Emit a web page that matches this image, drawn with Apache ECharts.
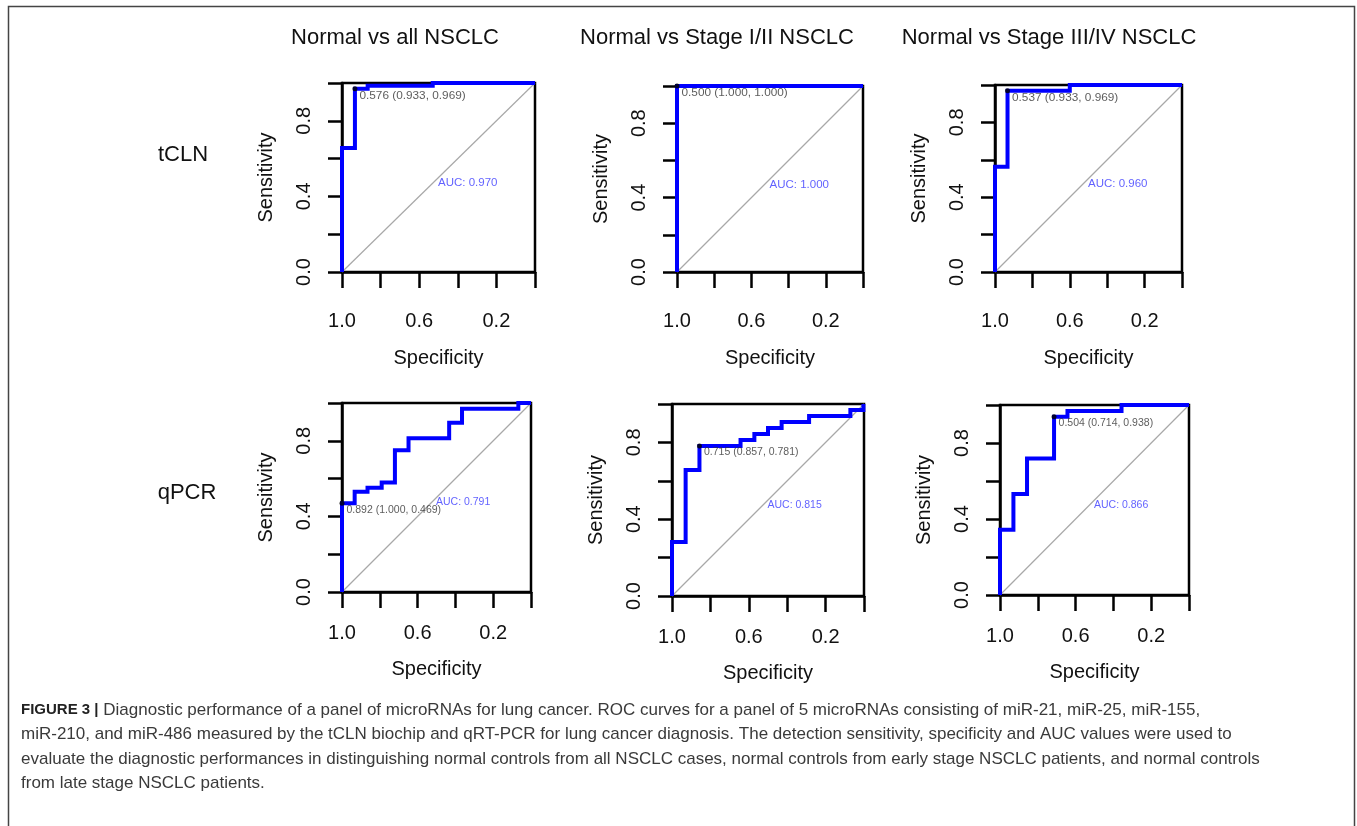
<!DOCTYPE html>
<html>
<head>
<meta charset="utf-8">
<script src="https://cdn.jsdelivr.net/npm/echarts@6/dist/echarts.min.js"></script>
<style>
  html, body { margin: 0; padding: 0; background: #fff; }
  #chart { width: 1357px; height: 826px; }
</style>
</head>
<body>
<div id="chart"></div>
<script>
const FONT = "'Liberation Sans', Arial, sans-serif";

// column / row headings
const colTitles = ["Normal vs all NSCLC", "Normal vs Stage I/II NSCLC", "Normal vs Stage III/IV NSCLC"];
const rowTitles = ["tCLN", "qPCR"];

// ROC curves, points as [specificity, sensitivity]
const rocTclnAll = [[1, 0], [1, 0.656], [0.933, 0.656], [0.933, 0.969], [0.867, 0.969], [0.867, 0.985], [0.53, 0.985], [0.53, 1], [0, 1]];
const rocTclnEarly = [[1, 0], [1, 1], [0, 1]];
const rocTclnLate = [[1, 0], [1, 0.563], [0.933, 0.563], [0.933, 0.969], [0.6, 0.969], [0.6, 1], [0, 1]];
const rocQpcrAll = [[1, 0], [1, 0.469], [0.933, 0.469], [0.933, 0.531], [0.865, 0.531], [0.865, 0.552], [0.79, 0.552], [0.79, 0.58], [0.72, 0.58],
  [0.72, 0.75], [0.648, 0.75], [0.648, 0.813], [0.433, 0.813], [0.433, 0.895], [0.365, 0.895], [0.365, 0.969], [0.067, 0.969], [0.067, 1], [0, 1]];
const rocQpcrEarly = [[1, 0], [1, 0.281], [0.929, 0.281], [0.929, 0.656], [0.857, 0.656], [0.857, 0.781], [0.643, 0.781], [0.643, 0.813],
  [0.571, 0.813], [0.571, 0.844], [0.5, 0.844], [0.5, 0.875], [0.429, 0.875], [0.429, 0.906], [0.286, 0.906], [0.286, 0.938],
  [0.071, 0.938], [0.071, 0.969], [0.003, 0.969], [0.003, 1], [0, 1]];
const rocQpcrLate = [[1, 0], [1, 0.344], [0.929, 0.344], [0.929, 0.531], [0.857, 0.531], [0.857, 0.719], [0.714, 0.719], [0.714, 0.938],
  [0.643, 0.938], [0.643, 0.969], [0.357, 0.969], [0.357, 1], [0, 1]];

const rocCurves = [rocTclnAll, rocTclnEarly, rocTclnLate, rocQpcrAll, rocQpcrEarly, rocQpcrLate];

// best threshold per panel: threshold, specificity, sensitivity
const bestThreshold = ["0.576", "0.500", "0.537", "0.892", "0.715", "0.504"];
const bestSpec = [0.933, 1.0, 0.933, 1.0, 0.857, 0.714];
const bestSens = [0.969, 1.0, 0.969, 0.469, 0.781, 0.938];
const aucValues = ["0.970", "1.000", "0.960", "0.791", "0.815", "0.866"];

// axis ticks
const tickStep = 0.2;
const xTickLabels = ["1.0", "0.6", "0.2"];
const yTickLabels = ["0.0", "0.4", "0.8"];
const diagonal = [[1, 0], [0, 1]];

// plot boxes in pixels
const boxes = [
  { left: 342, top: 83, width: 193, height: 189 },
  { left: 677, top: 86, width: 186, height: 186 },
  { left: 995, top: 85, width: 187, height: 187 },
  { left: 342, top: 403, width: 189, height: 189 },
  { left: 672, top: 404, width: 192, height: 192 },
  { left: 1000, top: 405, width: 189, height: 190 }
];

const captionLines = [
  "{b|FIGURE 3 |} Diagnostic performance of a panel of microRNAs for lung cancer. ROC curves for a panel of 5 microRNAs consisting of miR-21, miR-25, miR-155,",
  "miR-210, and miR-486 measured by the tCLN biochip and qRT-PCR for lung cancer diagnosis. The detection sensitivity, specificity and AUC values were used to",
  "evaluate the diagnostic performances in distinguishing normal controls from all NSCLC cases, normal controls from early stage NSCLC patients, and normal controls",
  "from late stage NSCLC patients."
];

const fmt = (v) => (Math.round(v * 10) / 10).toFixed(1);

const chart = echarts.init(document.getElementById("chart"), null, { renderer: "canvas" });

const grid = boxes.map((b) => ({
  left: b.left, top: b.top, width: b.width, height: b.height,
  show: true, borderColor: "#000", borderWidth: 2.5, backgroundColor: "transparent",
  containLabel: false, outerBoundsMode: "none"
}));

const xAxis = boxes.map((b, i) => {
  const topRow = i < 3;
  return {
    gridIndex: i, type: "value", min: 0, max: 1, interval: tickStep, inverse: true, position: "bottom",
    name: "Specificity", nameLocation: "middle", nameGap: topRow ? 76 : 67,
    nameTextStyle: { fontFamily: FONT, fontSize: 20, color: "#111" },
    axisLine: { show: true, onZero: false, lineStyle: { color: "#000", width: 2.5 } },
    axisTick: { show: true, inside: false, length: 16, lineStyle: { color: "#000", width: 2.5 } },
    axisLabel: {
      margin: topRow ? 39 : 31, fontFamily: FONT, fontSize: 20, color: "#111",
      formatter: (v) => (xTickLabels.includes(fmt(v)) ? fmt(v) : "")
    },
    splitLine: { show: false }
  };
});

const yAxis = boxes.map((b, i) => ({
  gridIndex: i, type: "value", min: 0, max: 1, interval: tickStep, position: "left",
  name: "Sensitivity", nameLocation: "middle", nameGap: 66,
  nameTextStyle: { fontFamily: FONT, fontSize: 20, color: "#111" },
  axisLine: { show: true, onZero: false, lineStyle: { color: "#000", width: 2.5 } },
  axisTick: { show: true, inside: false, length: 14, lineStyle: { color: "#000", width: 2.5 } },
  axisLabel: {
    margin: 28, rotate: 90, fontFamily: FONT, fontSize: 20, color: "#111",
    formatter: (v) => (yTickLabels.includes(fmt(v)) ? fmt(v) : "")
  },
  splitLine: { show: false }
}));

const series = [];
rocCurves.forEach((curve, i) => {
  const small = i < 3 ? 11.8 : 10.5;
  series.push({
    type: "line", xAxisIndex: i, yAxisIndex: i, data: diagonal, symbol: "none", silent: true, clip: false,
    lineStyle: { color: "#a8a8a8", width: 1.2 }, z: 2
  });
  series.push({
    type: "line", xAxisIndex: i, yAxisIndex: i, data: curve, symbol: "none", silent: true, clip: false,
    lineStyle: { color: "#0000ff", width: 4, join: "miter", cap: "butt" }, z: 3
  });
  series.push({
    type: "scatter", xAxisIndex: i, yAxisIndex: i, data: [[bestSpec[i], bestSens[i]]],
    symbol: "circle", symbolSize: 5, itemStyle: { color: "#000" }, silent: true, clip: false, z: 4,
    label: {
      show: true, position: [7, 9], align: "left", verticalAlign: "middle",
      fontFamily: FONT, fontSize: small, color: "#333",
      formatter: () => `${bestThreshold[i]} (${bestSpec[i].toFixed(3)}, ${bestSens[i].toFixed(3)})`
    }
  });
  series.push({
    type: "scatter", xAxisIndex: i, yAxisIndex: i, data: [[0.5, 0.5]],
    symbolSize: 1, itemStyle: { color: "rgba(0,0,0,0)" }, silent: true, clip: false, z: 4,
    label: {
      show: true, position: [0, 0], align: "left", verticalAlign: "top",
      fontFamily: FONT, fontSize: i < 3 ? 11.5 : 10.5, color: "#3a3aff",
      formatter: () => `AUC: ${aucValues[i]}`
    }
  });
});

const titleCenters = [395, 717, 1049];
const rowCenters = [{ x: 183, y: 155 }, { x: 187, y: 493 }];

const graphic = [
  // figure frame
  { type: "polyline", shape: { points: [[8.5, 826], [8.5, 6.5], [1354.5, 6.5], [1354.5, 826]] }, style: { stroke: "#444", lineWidth: 1.5, fill: null } },
  ...colTitles.map((t, i) => ({
    type: "text", x: titleCenters[i], y: 38,
    style: { text: t, font: `22px ${FONT}`, fill: "#111", align: "center", verticalAlign: "middle" }
  })),
  ...rowTitles.map((t, i) => ({
    type: "text", x: rowCenters[i].x, y: rowCenters[i].y,
    style: { text: t, font: `22px ${FONT}`, fill: "#111", align: "center", verticalAlign: "middle" }
  })),
  {
    type: "text", x: 21, y: 698,
    style: {
      text: captionLines.join("\n"), font: `17px ${FONT}`, fill: "#3a3a3a", lineHeight: 24.5,
      align: "left", verticalAlign: "top",
      rich: { b: { fontWeight: "bold", fontSize: 15, fontFamily: FONT, fill: "#222", lineHeight: 24.5 } }
    }
  }
];

chart.setOption({
  backgroundColor: "#fff",
  animation: false,
  grid, xAxis, yAxis, series, graphic
});
</script>
</body>
</html>
